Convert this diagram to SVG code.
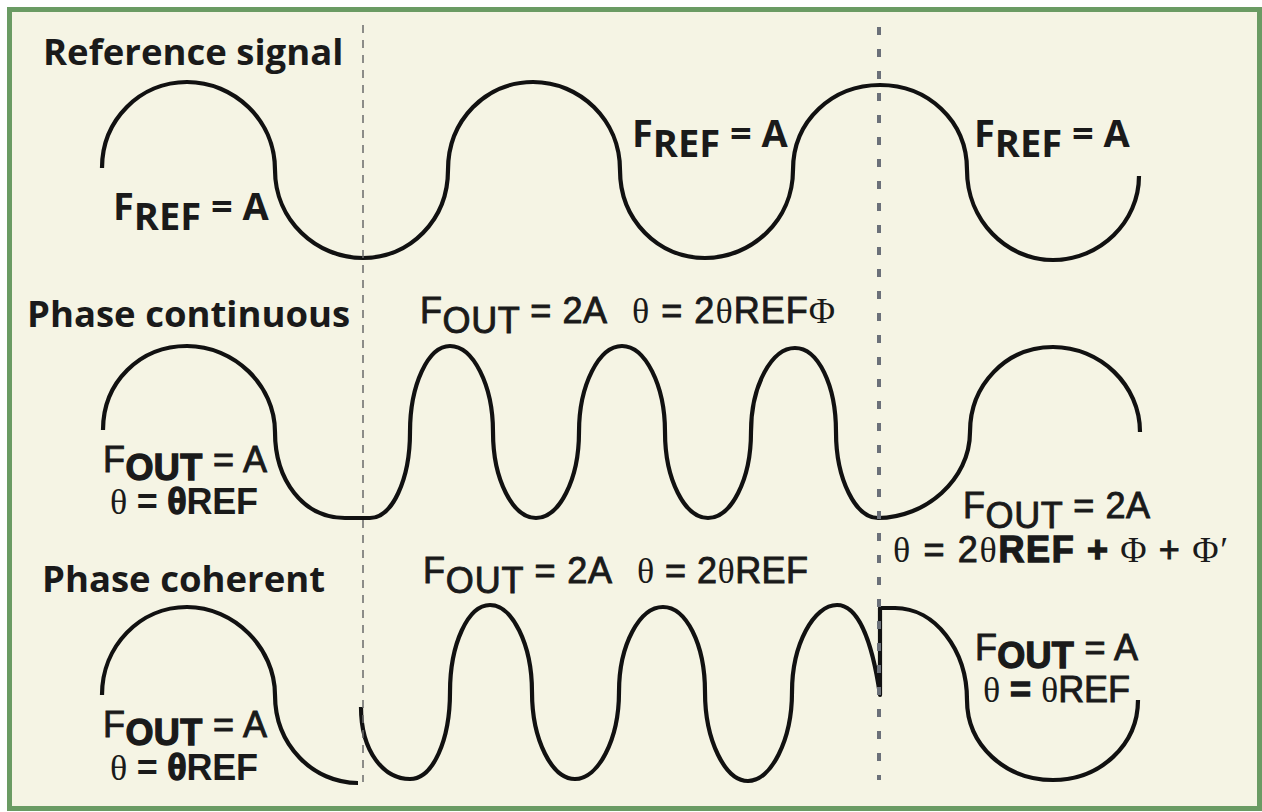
<svg xmlns="http://www.w3.org/2000/svg" width="1262" height="812" viewBox="0 0 1262 812">
<style>
.bg{fill:#f5f4e4;stroke:#6a9b63;stroke-width:5}
.wave{fill:none;stroke:#111;stroke-width:4.2;stroke-linejoin:round}
.thin{stroke:#6a6a6a;stroke-width:1.5;stroke-dasharray:8 7;fill:none}
.dot{stroke:#6b7079;stroke-width:4;stroke-dasharray:8 14;fill:none}
.t{font-family:"Open Sans","Liberation Sans",sans-serif;font-weight:700;font-size:36.5px;fill:#1a1a1a}
.l{font-family:"Open Sans","Liberation Sans",sans-serif;font-weight:700;font-size:38px;fill:#1a1a1a}
.f{font-family:"Liberation Sans",Arial,sans-serif;font-weight:400;font-size:36px;fill:#1a1a1a;stroke:#1a1a1a;stroke-width:0.9}
.s{font-family:"Liberation Serif","Times New Roman",serif;font-weight:400;stroke-width:0}
.h{font-weight:700;stroke-width:1.3}
.b{font-weight:700;stroke-width:0}
</style>
<rect width="1262" height="812" fill="#ffffff"/>
<rect class="bg" x="9.5" y="9.5" width="1250" height="799"/>

<g id="waves">
<path id="ref-wave" class="wave" d="M 102,168 C 102,120 140,82 187,82 C 234,82 275,120 275,170 C 275,220 316,258 363,258 C 410,258 448,220 448,170 C 448,120 486,82 533,82 C 580,82 620,120 620,170 C 620,220 658,258 705,258 C 752,258 793,220 793,170 C 793,120 833,85 880,85 C 927,85 967,120 967,170 C 967,220 1006,260 1053,260 C 1100,260 1139,222 1139,176"/>
<path id="cont-wave" class="wave" d="M 103,430 C 103,382 140,346 187,346 C 234,346 275,385 275,432 C 275,480 303,518 345,518 L 370,518 C 392,518 410,480 410,432 C 410,385 428,346 450,346 C 473,346 493,385 493,432 C 493,480 513,518 536,518 C 559,518 579,480 579,432 C 579,385 599,346 622,346 C 645,346 665,385 665,432 C 665,480 685,518 708,518 C 731,518 751,480 751,432 C 751,385 772,348 795,348 C 818,348 836,385 836,432 C 836,480 856,518 878,518 C 925,518 970,480 970,432 C 970,385 1006,347 1053,347 C 1100,347 1140,385 1140,432"/>
<path id="coh-wave-1" class="wave" d="M 102,695 C 102,646 140,607 187,607 C 234,607 275,648 275,695 C 275,745 313,783 358,783"/>
<path id="coh-wave-2" class="wave" d="M 361,707 C 361,752 384,779 410,779 C 433,779 450,740 450,692 C 450,644 468,605 490,605 C 512,605 532,644 532,692 C 532,740 552,779 575,779 C 598,779 619,740 619,692 C 619,644 640,607 663,607 C 686,607 705,644 705,692 C 705,740 725,781 748,781 C 771,781 792,740 792,692 C 792,644 814,605 837,605 C 858,605 872,640 880,695 L 880,608 L 895,608 C 935,608 967,650 967,700 C 967,745 1005,780 1053,780 C 1100,780 1138,745 1138,700"/>
</g>

<g id="markers">
<line class="thin" x1="363" y1="25" x2="363" y2="782"/>
<line class="dot" x1="879" y1="27" x2="879" y2="780"/>
</g>

<g id="titles">
<text class="t" x="43" y="65">Reference signal</text>
<text class="t" x="27" y="327">Phase continuous</text>
<text class="t" x="42" y="592">Phase coherent</text>
</g>

<g id="ref-labels">
<text class="l" x="113" y="220">F<tspan dy="10">REF</tspan><tspan dy="-10"> = A</tspan></text>
<text class="l" x="632" y="147">F<tspan dy="10">REF</tspan><tspan dy="-10"> = A</tspan></text>
<text class="l" x="974" y="147">F<tspan dy="10">REF</tspan><tspan dy="-10"> = A</tspan></text>
</g>

<g id="cont-labels">
<text class="f" x="103" y="472" font-size="37" textLength="164">F<tspan class="h" dy="8">OUT</tspan><tspan dy="-8"> = A</tspan></text>
<text class="f b" x="110" y="514" font-size="31" textLength="148"><tspan class="s">θ</tspan> = <tspan class="h">θ</tspan>REF</text>
<text class="f" x="420" y="323" textLength="187">F<tspan dy="10">OUT</tspan><tspan dy="-10"> = 2A</tspan></text>
<text class="f" x="632" y="323" textLength="203"><tspan class="s">θ</tspan> = 2<tspan class="s">θ</tspan>REF<tspan class="s">Φ</tspan></text>
<text class="f" x="963" y="518" textLength="187">F<tspan dy="10">OUT</tspan><tspan dy="-10"> = 2A</tspan></text>
<text class="f" x="893" y="562" font-size="37" textLength="335"><tspan class="s">θ</tspan> = 2<tspan class="s">θ</tspan><tspan class="h">REF +</tspan><tspan class="s"> Φ </tspan>+<tspan class="s"> Φ′</tspan></text>
</g>

<g id="coh-labels">
<text class="f" x="103" y="737" font-size="37" textLength="164">F<tspan class="h" dy="8">OUT</tspan><tspan dy="-8"> = A</tspan></text>
<text class="f b" x="110" y="780" font-size="31" textLength="148"><tspan class="s">θ</tspan> = <tspan class="h">θ</tspan>REF</text>
<text class="f" x="423" y="583" textLength="189">F<tspan dy="10">OUT</tspan><tspan dy="-10"> = 2A</tspan></text>
<text class="f" x="637" y="583" textLength="171"><tspan class="s">θ</tspan> = 2<tspan class="s">θ</tspan>REF</text>
<text class="f" x="975" y="660" font-size="35" textLength="163">F<tspan class="h" dy="8">OUT</tspan><tspan dy="-8"> = A</tspan></text>
<text class="f" x="983" y="702" font-size="33" textLength="147"><tspan class="s">θ</tspan><tspan class="h"> = </tspan><tspan class="s">θ</tspan>REF</text>
</g>
</svg>
